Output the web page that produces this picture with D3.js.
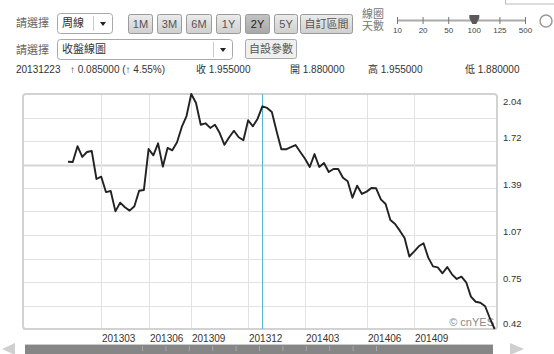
<!DOCTYPE html>
<html>
<head>
<meta charset="utf-8">
<script src="https://cdn.jsdelivr.net/npm/d3@7"></script>
<style>
  body { margin: 0; background: #fff; }
  text { font-family: "Liberation Sans", Arial, "Noto Sans CJK TC", sans-serif; }
</style>
</head>
<body>
<svg id="canvas"></svg>
<script>
// weekly close values, oldest first
const closes = [1.573, 1.571, 1.680, 1.606, 1.640, 1.647, 1.454, 1.470, 1.364, 1.371,
  1.231, 1.291, 1.259, 1.236, 1.266, 1.373, 1.378, 1.661, 1.617, 1.700,
  1.539, 1.668, 1.652, 1.707, 1.813, 1.888, 2.040, 1.978, 1.828, 1.838,
  1.806, 1.828, 1.771, 1.690, 1.742, 1.787, 1.742, 1.721, 1.859, 1.817,
  1.870, 1.955, 1.944, 1.916, 1.783, 1.659, 1.659, 1.673, 1.688, 1.640,
  1.594, 1.537, 1.626, 1.537, 1.564, 1.502, 1.523, 1.523, 1.463, 1.438,
  1.325, 1.408, 1.351, 1.367, 1.392, 1.390, 1.314, 1.282, 1.171, 1.144,
  1.098, 1.047, 0.920, 0.954, 0.990, 1.011, 0.912, 0.852, 0.845, 0.804,
  0.847, 0.797, 0.765, 0.781, 0.742, 0.643, 0.608, 0.601, 0.577, 0.494, 0.420];

// month ticks: label + index of the week where the gridline sits
const monthLabels = ["201303", "201306", "201309", "201312", "201403", "201406", "201409"];
const monthIdx = [7, 17, 26, 38, 50, 63, 73];

const yTickValues = [2.04, 1.716, 1.392, 1.068, 0.744, 0.42];
const yTickLabels = ["2.04", "1.72", "1.39", "1.07", "0.75", "0.42"];

const cursorIdx = 41; // 20131223

const rangeButtons = ["1M", "3M", "6M", "1Y", "2Y", "5Y", "自訂區間"];
const selectedRange = "2Y";
const sliderLabels = ["10", "20", "50", "100", "125", "500"];
const selectedDays = "100";

const infoTexts = [
  { t: "20131223", x: 16 },
  { t: "↑ 0.085000 (↑ 4.55%)", x: 70 },
  { t: "收 1.955000", x: 196 },
  { t: "開 1.880000", x: 290 },
  { t: "高 1.955000", x: 368 },
  { t: "低 1.880000", x: 465 }
];

const width = 554, height = 354;
const svg = d3.select("#canvas").attr("width", width).attr("height", height);

// plot box
const plotLeft = 23, plotRight = 497, plotTop = 94, plotBottom = 329;

const x = d3.scaleLinear().domain([-9.5, 90.5]).range([plotLeft, plotRight]);
const y = d3.scaleLinear().domain([0.42, 2.04]).range([plotBottom, plotTop]);

// ---------- header ----------
const defs = svg.append("defs");
const btnGrad = defs.append("linearGradient")
  .attr("id", "btn").attr("x1", 0).attr("y1", 0).attr("x2", 0).attr("y2", 1);
btnGrad.append("stop").attr("offset", 0).attr("stop-color", "#ececec");
btnGrad.append("stop").attr("offset", 1).attr("stop-color", "#cfcfcf");
const selGrad = defs.append("linearGradient")
  .attr("id", "btnSel").attr("x1", 0).attr("y1", 0).attr("x2", 0).attr("y2", 1);
selGrad.append("stop").attr("offset", 0).attr("stop-color", "#c4c4c4");
selGrad.append("stop").attr("offset", 1).attr("stop-color", "#a8a8a8");

[27, 54].forEach(yy => {
  svg.append("text").attr("x", 16).attr("y", yy).attr("font-size", 11)
    .attr("fill", "#666").text("請選擇");
});

// dropdowns
function dropdown(x0, y0, w, label) {
  svg.append("rect").attr("x", x0 + 0.5).attr("y", y0 + 0.5).attr("width", w).attr("height", 20)
    .attr("rx", 3).attr("fill", "#fff").attr("stroke", "#a8a8a8");
  svg.append("text").attr("x", x0 + 5).attr("y", y0 + 14).attr("font-size", 11)
    .attr("fill", "#333").text(label);
  svg.append("line").attr("x1", x0 + w - 18.5).attr("x2", x0 + w - 18.5)
    .attr("y1", y0 + 3).attr("y2", y0 + 18).attr("stroke", "#ccc");
  const cx = x0 + w - 9;
  svg.append("path")
    .attr("d", `M${cx - 3},${y0 + 9}L${cx + 3},${y0 + 9}L${cx},${y0 + 13}Z`)
    .attr("fill", "#222");
}
dropdown(57, 13, 55, "周線");
dropdown(57, 39, 175, "收盤線圖");

// range buttons
const btnX = [128, 157, 186, 216, 245, 274, 300];
const btnW = [24, 24, 25, 24, 24, 23, 52];
const btn = svg.selectAll(".rbtn").data(rangeButtons).join("g").attr("class", "rbtn");
btn.append("rect")
  .attr("x", (d, i) => btnX[i] + 0.5).attr("y", 14.5)
  .attr("width", (d, i) => btnW[i]).attr("height", 19).attr("rx", 2)
  .attr("fill", d => d === selectedRange ? "url(#btnSel)" : "url(#btn)")
  .attr("stroke", "#9a9a9a");
btn.append("text")
  .attr("x", (d, i) => btnX[i] + btnW[i] / 2 + 0.5).attr("y", 28)
  .attr("text-anchor", "middle").attr("font-size", 11)
  .attr("fill", d => d === selectedRange ? "#222" : "#555")
  .text(d => d);

// custom params button
svg.append("rect").attr("x", 245.5).attr("y", 39.5).attr("width", 51).attr("height", 19).attr("rx", 2)
  .attr("fill", "#efefef").attr("stroke", "#aaa");
svg.append("text").attr("x", 271).attr("y", 53).attr("text-anchor", "middle")
  .attr("font-size", 11).attr("fill", "#555").text("自設參數");

// days slider
svg.append("text").attr("x", 362).attr("y", 18).attr("font-size", 11).attr("fill", "#777").text("線圈");
svg.append("text").attr("x", 362).attr("y", 30).attr("font-size", 11).attr("fill", "#777").text("天數");
const sx = d3.scalePoint().domain(sliderLabels).range([397.5, 525.5]);
svg.append("line").attr("x1", 397).attr("x2", 526).attr("y1", 20.5).attr("y2", 20.5)
  .attr("stroke", "#aaa").attr("stroke-width", 2);
svg.selectAll(".stick").data(sliderLabels).join("line").attr("class", "stick")
  .attr("x1", d => sx(d)).attr("x2", d => sx(d)).attr("y1", 17).attr("y2", 24)
  .attr("stroke", "#777");
svg.selectAll(".slab").data(sliderLabels).join("text").attr("class", "slab")
  .attr("x", d => sx(d)).attr("y", 33).attr("text-anchor", "middle")
  .attr("font-size", 8).attr("fill", "#444").text(d => d);
const tx = sx(selectedDays);
svg.append("path")
  .attr("d", `M${tx - 5},15L${tx + 5},15L${tx + 5},18L${tx + 2},24L${tx - 2},24L${tx - 5},18Z`)
  .attr("fill", "#5a5a5a");

// top-right bits
svg.append("rect").attr("x", 505.5).attr("y", -5).attr("width", 60).attr("height", 9)
  .attr("fill", "#fff").attr("stroke", "#bbb");
svg.append("circle").attr("cx", 546).attr("cy", 21).attr("r", 6)
  .attr("fill", "none").attr("stroke", "#999").attr("stroke-width", 1.5);

// info row
svg.selectAll(".info").data(infoTexts).join("text").attr("class", "info")
  .attr("x", d => d.x).attr("y", 73).attr("font-size", 10).attr("fill", "#333")
  .text(d => d.t);

// ---------- plot ----------
const hGrid = d3.range(11).map(i => 0.42 + i * (2.04 - 0.42) / 10);
svg.selectAll(".hgrid").data(hGrid).join("line").attr("class", "hgrid")
  .attr("x1", plotLeft).attr("x2", plotRight)
  .attr("y1", d => Math.round(y(d)) + 0.5).attr("y2", d => Math.round(y(d)) + 0.5)
  .attr("stroke", (d, i) => i === 7 ? "#d6d6d6" : "#e2e2e2")
  .attr("stroke-width", (d, i) => i === 7 ? 2 : 1);

svg.selectAll(".vgrid").data(monthIdx).join("line").attr("class", "vgrid")
  .attr("x1", d => Math.round(x(d)) + 0.5).attr("x2", d => Math.round(x(d)) + 0.5)
  .attr("y1", plotTop).attr("y2", plotBottom)
  .attr("stroke", "#e2e2e2");

svg.append("rect").attr("x", plotLeft).attr("y", plotTop)
  .attr("width", plotRight - plotLeft).attr("height", plotBottom - plotTop)
  .attr("rx", 3).attr("fill", "none").attr("stroke", "#d2d2d2").attr("stroke-width", 2);

// cursor line
svg.append("line")
  .attr("x1", Math.round(x(cursorIdx)) + 0.5).attr("x2", Math.round(x(cursorIdx)) + 0.5)
  .attr("y1", plotTop).attr("y2", plotBottom)
  .attr("stroke", "#55b6d0").attr("stroke-width", 1);

// watermark
svg.append("text").attr("x", 494).attr("y", 326).attr("text-anchor", "end")
  .attr("font-size", 11).attr("fill", "#8a8a8a").text("© cnYES");

// price line
const line = d3.line().x((d, i) => x(i)).y(d => y(d));
svg.append("path").datum(closes)
  .attr("d", line)
  .attr("fill", "none").attr("stroke", "#222").attr("stroke-width", 1.9)
  .attr("stroke-linejoin", "round");

// y labels (kept inside the plot's vertical span)
svg.selectAll(".ylab").data(yTickValues).join("text").attr("class", "ylab")
  .attr("x", 503).attr("y", d => Math.max(plotTop + 10.5, Math.min(plotBottom - 2, y(d) - 0.5)))
  .attr("font-size", 9.5).attr("fill", "#333")
  .text((d, i) => yTickLabels[i]);

// x labels
svg.selectAll(".xlab").data(monthIdx).join("text").attr("class", "xlab")
  .attr("x", d => Math.round(x(d)) + 1).attr("y", 342)
  .attr("font-size", 10).attr("fill", "#333")
  .text((d, i) => monthLabels[i]);

// ---------- scroll bar ----------
svg.append("line").attr("x1", 25).attr("x2", 493).attr("y1", 344.5).attr("y2", 344.5).attr("stroke", "#ccc");
svg.append("rect").attr("x", 25).attr("y", 345).attr("width", 468).attr("height", 12).attr("fill", "#868686");
svg.selectAll(".btick").data(d3.range(11)).join("line").attr("class", "btick")
  .attr("x1", d => 142.5 + d * 23.4).attr("x2", d => 142.5 + d * 23.4)
  .attr("y1", 346).attr("y2", 351).attr("stroke", "#a8a8a8");
svg.append("path").attr("d", "M2,349L15,343L15,355Z").attr("fill", "#cfcfcf");
svg.append("path").attr("d", "M510,343L524,349L510,355Z").attr("fill", "#cfcfcf");
</script>
</body>
</html>
